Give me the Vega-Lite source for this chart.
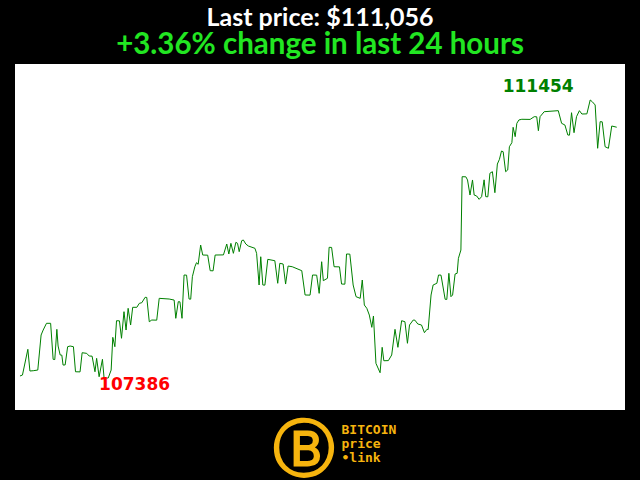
{
  "$schema": "https://vega.github.io/schema/vega-lite/v6.json",
  "width": 610,
  "height": 346,
  "autosize": {"type": "none"},
  "padding": {"left": 15, "top": 64, "right": 15, "bottom": 70},
  "background": "#000000",
  "config": {"view": {"fill": "#ffffff", "stroke": null}},
  "title": {
    "text": "Last price: $111,056",
    "subtitle": "+3.36% change in last 24 hours",
    "anchor": "middle",
    "font": "Lato",
    "fontSize": 25,
    "fontWeight": "bold",
    "color": "#ffffff",
    "subtitleFont": "Lato",
    "subtitleFontSize": 29.5,
    "subtitleFontWeight": "bold",
    "subtitleColor": "#22e622",
    "subtitlePadding": 0,
    "offset": 5
  },
  "data": {"values": [
    {"t":0,"p":107420},{"t":6,"p":107434},{"t":19,"p":107810},{"t":24,"p":107493},{"t":32,"p":107497},{"t":43,"p":107507},{"t":51,"p":108019},{"t":56,"p":108092},{"t":64,"p":108190},{"t":74,"p":108190},
    {"t":80,"p":107664},{"t":84,"p":107660},{"t":89,"p":108102},{"t":92,"p":107858},{"t":97,"p":107727},{"t":101,"p":107725},{"t":104,"p":107580},{"t":109,"p":107582},{"t":115,"p":107848},{"t":121,"p":107858},
    {"t":129,"p":107848},{"t":134,"p":107482},{"t":145,"p":107480},{"t":150,"p":107760},{"t":161,"p":107751},{"t":167,"p":107712},{"t":174,"p":107710},{"t":181,"p":107482},{"t":185,"p":107678},{"t":191,"p":107409},
    {"t":199,"p":107664},{"t":203,"p":107386},{"t":213,"p":107391},{"t":220,"p":107507},{"t":224,"p":107985},{"t":229,"p":107848},{"t":233,"p":108228},{"t":240,"p":108226},{"t":245,"p":107971},{"t":251,"p":108360},
    {"t":256,"p":108092},{"t":261,"p":108409},{"t":267,"p":108165},{"t":272,"p":108424},{"t":282,"p":108424},{"t":288,"p":108482},{"t":294,"p":108491},{"t":302,"p":108570},{"t":306,"p":108568},{"t":312,"p":108213},
    {"t":318,"p":108238},{"t":330,"p":108236},{"t":336,"p":108555},{"t":360,"p":108545},{"t":372,"p":108530},{"t":376,"p":108263},{"t":382,"p":108506},{"t":386,"p":108504},{"t":391,"p":108263},{"t":396,"p":108896},
    {"t":402,"p":108894},{"t":408,"p":108545},{"t":412,"p":108543},{"t":416,"p":108871},{"t":422,"p":109017},{"t":426,"p":109076},{"t":430,"p":109052},{"t":436,"p":109334},{"t":441,"p":109188},{"t":453,"p":109186},
    {"t":459,"p":108959},{"t":466,"p":108957},{"t":471,"p":109188},{"t":491,"p":109190},{"t":499,"p":109349},{"t":504,"p":109203},{"t":509,"p":109359},{"t":515,"p":109213},{"t":521,"p":109374},{"t":525,"p":109359},
    {"t":529,"p":109237},{"t":535,"p":109397},{"t":539,"p":109408},{"t":545,"p":109349},{"t":551,"p":109320},{"t":567,"p":109286},{"t":571,"p":109213},{"t":577,"p":108750},{"t":581,"p":109163},{"t":586,"p":108750},
    {"t":591,"p":108748},{"t":598,"p":109125},{"t":615,"p":109105},{"t":622,"p":108775},{"t":627,"p":109067},{"t":635,"p":109057},{"t":641,"p":108764},{"t":647,"p":109027},{"t":657,"p":109017},{"t":680,"p":108959},
    {"t":688,"p":108604},{"t":700,"p":108602},{"t":706,"p":108896},{"t":716,"p":108894},{"t":722,"p":108628},{"t":728,"p":109090},{"t":732,"p":108813},{"t":742,"p":108848},{"t":746,"p":109301},{"t":752,"p":109299},
    {"t":758,"p":109017},{"t":771,"p":109015},{"t":776,"p":108764},{"t":784,"p":108762},{"t":788,"p":109203},{"t":796,"p":109201},{"t":804,"p":108750},{"t":811,"p":108579},{"t":821,"p":108555},{"t":826,"p":108823},
    {"t":831,"p":108457},{"t":837,"p":108409},{"t":843,"p":108311},{"t":849,"p":108131},{"t":853,"p":108297},{"t":859,"p":107605},{"t":869,"p":107468},{"t":874,"p":107839},{"t":878,"p":107643},{"t":889,"p":107645},
    {"t":897,"p":107727},{"t":905,"p":108102},{"t":912,"p":107839},{"t":921,"p":108228},{"t":929,"p":108213},{"t":935,"p":107898},{"t":940,"p":108165},{"t":949,"p":108238},{"t":953,"p":108236},{"t":960,"p":108180},
    {"t":969,"p":108165},{"t":976,"p":108053},{"t":982,"p":108102},{"t":985,"p":108100},{"t":992,"p":108604},{"t":997,"p":108750},{"t":1006,"p":108775},{"t":1010,"p":108896},{"t":1016,"p":108894},{"t":1026,"p":108541},
    {"t":1030,"p":108539},{"t":1035,"p":108921},{"t":1040,"p":108579},{"t":1044,"p":108604},{"t":1050,"p":108911},{"t":1055,"p":108921},{"t":1058,"p":109140},{"t":1064,"p":109261},{"t":1067,"p":110333},{"t":1076,"p":110331},
    {"t":1080,"p":110285},{"t":1086,"p":110065},{"t":1092,"p":110285},{"t":1096,"p":110065},{"t":1102,"p":110051},{"t":1108,"p":110002},{"t":1114,"p":110041},{"t":1120,"p":110287},{"t":1124,"p":110041},{"t":1129,"p":110039},
    {"t":1134,"p":110383},{"t":1140,"p":110406},{"t":1146,"p":110099},{"t":1152,"p":110518},{"t":1157,"p":110587},{"t":1162,"p":110708},{"t":1166,"p":110698},{"t":1172,"p":110406},{"t":1177,"p":110431},{"t":1181,"p":110771},
    {"t":1187,"p":110830},{"t":1190,"p":111055},{"t":1195,"p":110918},{"t":1199,"p":111113},{"t":1204,"p":111162},{"t":1211,"p":111172},{"t":1231,"p":111170},{"t":1241,"p":111210},{"t":1247,"p":111208},{"t":1251,"p":111005},
    {"t":1255,"p":111210},{"t":1265,"p":111283},{"t":1299,"p":111298},{"t":1307,"p":111113},{"t":1315,"p":111088},{"t":1322,"p":110942},{"t":1326,"p":110940},{"t":1331,"p":111268},{"t":1337,"p":110976},{"t":1343,"p":111210},
    {"t":1350,"p":111298},{"t":1356,"p":111249},{"t":1368,"p":111251},{"t":1376,"p":111454},{"t":1381,"p":111429},{"t":1388,"p":111381},{"t":1394,"p":110748},{"t":1400,"p":111137},{"t":1405,"p":111135},{"t":1412,"p":110771},
    {"t":1420,"p":110748},{"t":1428,"p":111074},{"t":1440,"p":111056}
  ]},
  "encoding": {
    "x": {
      "field": "t", "type": "quantitative",
      "scale": {"domain": [-12, 1460], "nice": false, "zero": false},
      "axis": {
        "labels": false, "ticks": false, "domain": false, "grid": false,
        "title": ["BITCOIN", "price", "•link"],
        "titleFont": "DejaVu Sans Mono", "titleFontSize": 13, "titleFontWeight": "bold",
        "titleColor": "#f6b40e", "titleAlign": "left", "titleBaseline": "top",
        "titleX": 326, "titleY": 13, "titleLineHeight": 14
      }
    },
    "y": {
      "field": "p", "type": "quantitative",
      "scale": {"domain": [106923, 111980], "nice": false, "zero": false},
      "axis": {
        "labels": false, "ticks": false, "domain": false, "grid": false,
        "title": "Ⓑ",
        "titleAngle": 0, "titleFont": "DejaVu Sans", "titleFontSize": 62, "titleFontWeight": "bold",
        "titleColor": "#f6b40e", "titleAlign": "center", "titleBaseline": "middle",
        "titleX": 288, "titleY": 386
      }
    }
  },
  "layer": [
    {"mark": {"type": "line", "color": "#008000", "strokeWidth": 1, "interpolate": "linear"}},
    {
      "transform": [
        {"joinaggregate": [{"op": "max", "field": "p", "as": "mx"}]},
        {"filter": "datum.p == datum.mx"}
      ],
      "mark": {"type": "text", "font": "DejaVu Sans", "fontSize": 17, "fontWeight": "bold", "color": "#008000", "align": "center", "baseline": "alphabetic", "dx": -52, "dy": -8},
      "encoding": {"text": {"field": "p", "type": "quantitative", "format": "d"}}
    },
    {
      "transform": [
        {"joinaggregate": [{"op": "min", "field": "p", "as": "mn"}]},
        {"filter": "datum.p == datum.mn"}
      ],
      "mark": {"type": "text", "font": "DejaVu Sans", "fontSize": 17, "fontWeight": "bold", "color": "#ff0000", "align": "left", "baseline": "alphabetic", "dx": -5, "dy": 12},
      "encoding": {"text": {"field": "p", "type": "quantitative", "format": "d"}}
    }
  ]
}
